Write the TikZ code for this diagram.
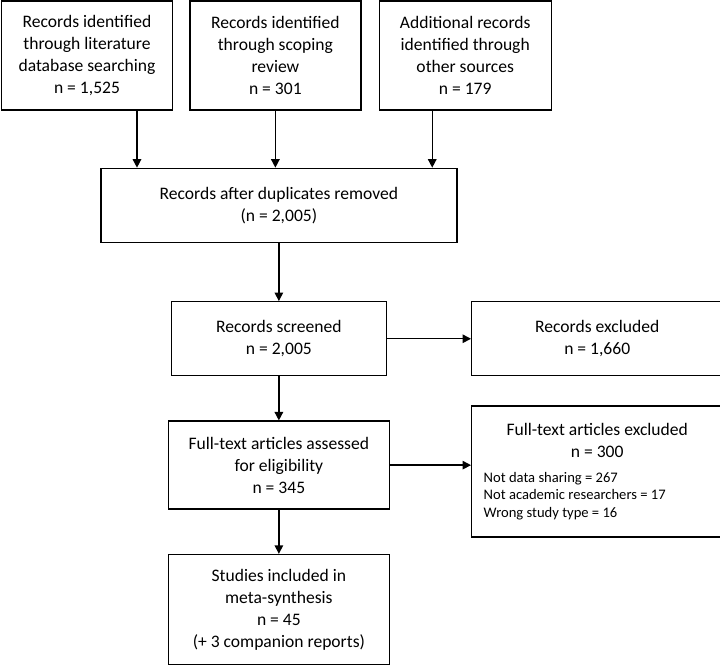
\documentclass[tikz,border=0pt]{standalone}
\usepackage{fontspec}
\setmainfont{Carlito}
\usetikzlibrary{positioning,arrows.meta}
\tikzset{flow box/.style={rectangle,draw,line width=0.8pt,align=center,inner sep=2pt,font=\fontsize{10}{12.5}\selectfont},
	flow arrow/.style={draw,line width=0.8pt,-{Triangle[length=1.7mm,width=1.7mm]}},
}

\begin{document}
\begin{tikzpicture}[x=0.02cm,y=-0.02cm]
				\useasboundingbox (0,0) rectangle (720,667);
				\node[flow box,minimum width=3.42cm,minimum height=2.18cm] (lit) at (87,55.5) {Records identified\\through literature\\database searching\\n = 1,525};
				\node[flow box,minimum width=3.42cm,minimum height=2.18cm] (scop) [right = 0.32cm of lit] {Records identified\\through scoping\\review\\n = 301};
				\node[flow box,minimum width=3.44cm,minimum height=2.18cm] (other) [right = 0.34cm of scop] {Additional records\\identified through\\other sources\\n = 179};
				\node[flow box,minimum width=7.12cm,minimum height=1.48cm] (dup) [below = 1.14cm of scop, xshift=0.07cm] {Records after duplicates removed\\(n = 2,005)};
				\node[flow box,minimum width=4.3cm,minimum height=1.48cm] (screen) [below = 1.16cm of dup] {Records screened\\n = 2,005};
				\node[flow box,minimum width=5.02cm,minimum height=1.48cm] (recex) [right = 1.68cm of screen] {Records excluded\\n = 1,660};
				\node[flow box,minimum width=4.42cm,minimum height=1.76cm] (full) [below = 0.88cm of screen] {Full-text articles assessed\\for eligibility\\n = 345};
				\node[flow box,minimum width=5.02cm,minimum height=2.62cm] (fullex) [below = 0.58cm of recex] {\parbox{4.54cm}{\centering Full-text articles excluded\\n = 300\par\vspace{4pt}
					\raggedright\fontsize{8.3}{10.2}\selectfont Not data sharing = 267\\Not academic researchers = 17\\Wrong study type = 16\par}};
				\node[flow box,minimum width=4.42cm,minimum height=2.2cm] (incl) [below = 0.88cm of full] {Studies included in\\meta-synthesis\\n = 45\\(+ 3 companion reports)};
				
				\draw[flow arrow] ([xshift=1cm]lit.south) -- ([xshift=1cm]lit.south |- dup.north);
				\draw[flow arrow] (scop) -- (scop |- dup.north);
				\draw[flow arrow] ([xshift=-0.66cm]other.south) -- ([xshift=-0.66cm]other.south |- dup.north);
				\draw[flow arrow] (dup) -- (screen);
				\draw[flow arrow] (screen) -- (recex);
				\draw[flow arrow] (screen) -- (full);
				\draw[flow arrow] (full.east) -- (full.east -| fullex.west);
				\draw[flow arrow] (full) -- (incl);
				
			\end{tikzpicture}
\end{document}
